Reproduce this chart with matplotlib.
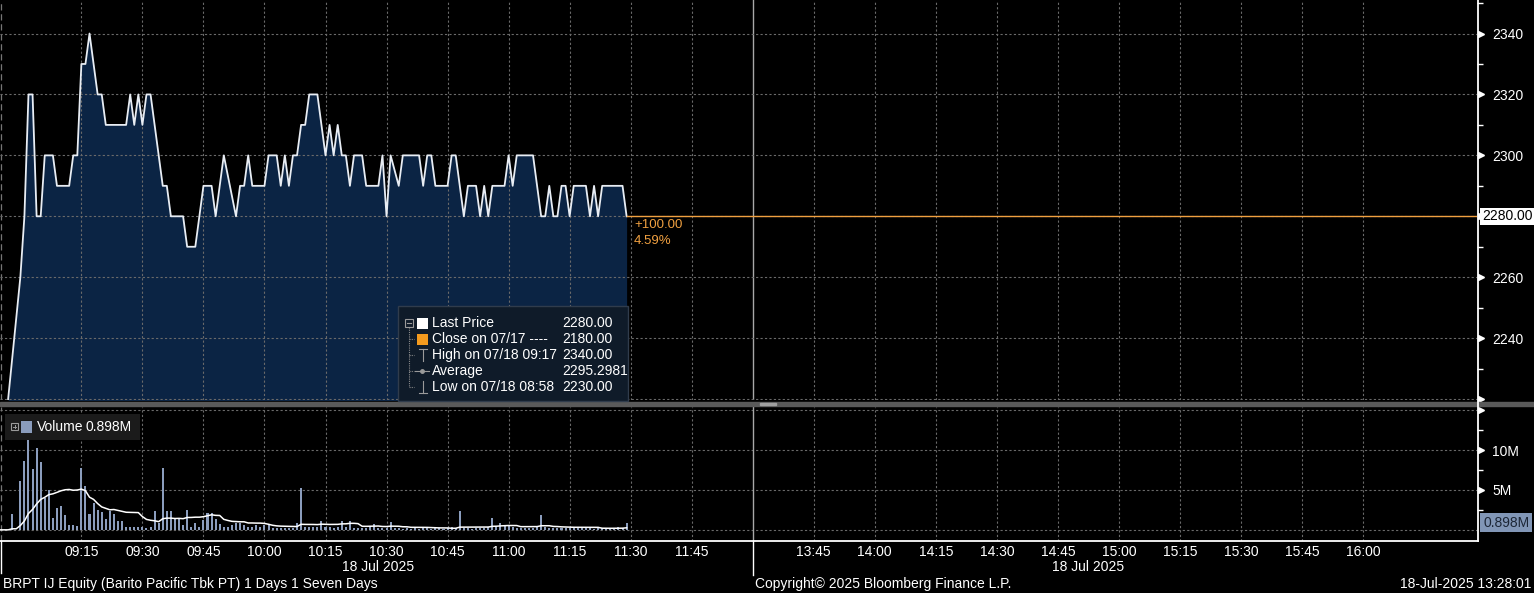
import matplotlib
matplotlib.use('Agg')
import matplotlib.pyplot as plt
import matplotlib.transforms as mtransforms
from matplotlib.patches import Rectangle
from matplotlib.lines import Line2D
import numpy as np
import pandas as pd

plt.rcParams['font.family'] = ['Liberation Sans', 'DejaVu Sans']

# data
price_times = ['08:57', '09:00', '09:01', '09:02', '09:03', '09:04', '09:05', '09:06', '09:08', '09:09',
               '09:12', '09:13', '09:14', '09:15', '09:16', '09:17', '09:19', '09:20', '09:21', '09:26',
               '09:27', '09:28', '09:29', '09:30', '09:31', '09:32', '09:35', '09:36', '09:37', '09:40',
               '09:41', '09:43', '09:45', '09:47', '09:48', '09:50', '09:53', '09:54', '09:55', '09:56',
               '09:57', '10:00', '10:01', '10:03', '10:04', '10:05', '10:06', '10:07', '10:08', '10:09',
               '10:10', '10:11', '10:13', '10:15', '10:16', '10:17', '10:18', '10:19', '10:20', '10:21',
               '10:22', '10:24', '10:25', '10:28', '10:29', '10:30', '10:31', '10:33', '10:34', '10:38',
               '10:39', '10:40', '10:41', '10:42', '10:45', '10:46', '10:47', '10:49', '10:50', '10:52',
               '10:53', '10:54', '10:55', '10:56', '10:59', '11:00', '11:01', '11:02', '11:06', '11:08',
               '11:09', '11:10', '11:11', '11:12', '11:13', '11:14', '11:15', '11:16', '11:19', '11:20',
               '11:21', '11:22', '11:23', '11:28', '11:29']
price_vals = [2220, 2260, 2280, 2320, 2320, 2280, 2280, 2300, 2300, 2290,
              2290, 2300, 2300, 2330, 2330, 2340, 2320, 2320, 2310, 2310,
              2320, 2310, 2320, 2310, 2320, 2320, 2290, 2290, 2280, 2280,
              2270, 2270, 2290, 2290, 2280, 2300, 2280, 2290, 2290, 2300,
              2290, 2290, 2300, 2300, 2290, 2300, 2290, 2300, 2300, 2310,
              2310, 2320, 2320, 2300, 2310, 2300, 2310, 2300, 2300, 2290,
              2300, 2300, 2290, 2290, 2300, 2280, 2300, 2290, 2300, 2300,
              2290, 2300, 2300, 2290, 2290, 2300, 2300, 2280, 2290, 2290,
              2280, 2290, 2280, 2290, 2290, 2300, 2290, 2300, 2300, 2280,
              2280, 2290, 2280, 2280, 2290, 2290, 2280, 2290, 2290, 2280,
              2290, 2280, 2290, 2290, 2280]

# volume per minute (millions) starting 08:58
vol_start = '08:58'
volume_m = [2.0, 0, 6.1, 8.6, 14.1, 7.6, 10.3, 8.5, 4.0, 5.0,
            1.5, 2.75, 3.0, 1.9, 0.55, 0.55, 0.45, 7.8, 5.5, 2.0,
            3.4, 2.5, 2.2, 1.3, 2.3, 2.0, 1.05, 1.15, 0.3, 0.3,
            0.3, 0.3, 0.3, 0.2, 0.4, 2.4, 0.9, 7.7, 2.4, 2.3,
            1.3, 1.3, 0.6, 2.5, 0.4, 0.8, 0.3, 1.2, 2.1, 2.1,
            1.3, 0.7, 0.4, 0.35, 0.6, 0.9, 0.9, 0.55, 0.3, 0.4,
            0.55, 0.3, 0.55, 0.55, 0.2, 0.2, 0.2, 0.2, 0.2, 0.2,
            0.85, 5.2, 0.3, 0.3, 0.3, 0.3, 1.1, 0.3, 0.3, 0.25,
            0.3, 1.1, 0.3, 1.1, 0.25, 0.25, 0.25, 0.2, 0.5, 0.7,
            0.25, 0.25, 0.2, 1.0, 0.2, 0.2, 0.15, 0.2, 0.15, 0.2,
            0.15, 0.2, 0.2, 0.15, 0.2, 0.2, 0.15, 0.2, 0.4, 0.2,
            2.3, 0.2, 0.2, 0.15, 0.2, 0.2, 0.2, 0.3, 1.5, 0.4,
            0.8, 0.5, 0.6, 0.3, 0.2, 0.2, 0.2, 0.2, 0.2, 0.3,
            1.8, 0.3, 0.2, 0.2, 0.2, 0.2, 0.2, 0.2, 0.2, 0.2,
            0.2, 0.2, 0.2, 0.15, 0.2, 0.2, 0.15, 0.2, 0.2, 0.4,
            0.2, 0.898]

time_ticks = ['09:15', '09:30', '09:45', '10:00', '10:15', '10:30', '10:45', '11:00', '11:15', '11:30',
              '11:45', '13:45', '14:00', '14:15', '14:30', '14:45', '15:00', '15:15', '15:30', '15:45', '16:00']
price_ticks = [2240, 2260, 2280, 2300, 2320, 2340]
price_grid = [2220, 2240, 2260, 2280, 2300, 2320, 2340]
price_minor = [2230, 2250, 2270, 2290, 2310, 2330, 2350]
vol_ticks = [5, 10]
vol_grid = [0, 5, 10, 15]
vol_minor = [2.5, 7.5, 12.5]

last_price = 2280.00
legend_rows = [('Last Price', '2280.00'), ('Close on 07/17 ----', '2180.00'),
               ('High on 07/18 09:17', '2340.00'), ('Average', '2295.2981'),
               ('Low on 07/18 08:58', '2230.00')]
last_volume = '0.898M'


def to_pos(hhmm):
    # minutes since 08:55, lunch break (12:00-13:30) collapsed
    h, m = map(int, hhmm.split(':'))
    t = h * 60 + m
    pos = t - (8 * 60 + 55)
    if t >= 13 * 60 + 30:
        pos -= 90
    return pos


W, H = 1534, 593
fig = plt.figure(figsize=(W / 100, H / 100), dpi=100, facecolor='black')


def fx(x):
    return x / W


def fy(y):
    return 1 - y / H


grid_c = '#6a6a6a'
dash = (0, (2, 2))
navy = '#0b2444'
fs = 10
x_end = 363
brk = to_pos('13:30')

ax_p = fig.add_axes([0, fy(400), fx(1477), 400 / H])
ax_v = fig.add_axes([0, fy(541), fx(1477), (541 - 407) / H])
for ax in (ax_p, ax_v):
    ax.set_facecolor('black')
    for s in ax.spines.values():
        s.set_visible(False)
    ax.set_xlim(0, x_end)
    for t in time_ticks:
        ax.axvline(to_pos(t), color=grid_c, lw=0.8, ls=dash, zorder=2)
    ax.axvline(0.25, color='#777777', lw=0.9, ls=(0, (5, 3)), zorder=2)
    ax.axvline(brk, color='#a8a8a8', lw=1.0, zorder=2)

# price panel
xp = [to_pos(t) for t in price_times]
ax_p.fill_between(xp, price_vals, 2200, color=navy, lw=0, zorder=1)
for v in price_grid:
    ax_p.axhline(v, color=grid_c, lw=0.8, ls=dash, zorder=2)
ax_p.plot(xp, price_vals, color='#e8edf4', lw=1.3, zorder=3)
ax_p.plot([xp[-1], x_end], [last_price, last_price], color='#f0a040', lw=1.0, zorder=4)
ax_p.set_ylim(2219.7, 2351)
ax_p.set_xticks([])
ax_p.yaxis.tick_right()
ax_p.set_yticks(price_ticks, [str(v) if v != 2280 else '' for v in price_ticks])
ax_p.set_yticks(price_minor, minor=True)
ax_p.tick_params(axis='y', which='major', length=0, pad=11, labelcolor='white', labelsize=fs)
ax_p.tick_params(axis='y', which='minor', length=4, width=1, color='white', direction='out')

# volume panel
xv = to_pos(vol_start) + np.arange(len(volume_m))
padded = np.concatenate([np.zeros(to_pos(vol_start)), volume_m])
ma = pd.Series(padded).rolling(15, min_periods=1).sum() / 15
for v in vol_grid:
    ax_v.axhline(v, color=grid_c, lw=0.8, ls=dash, zorder=1)
ax_v.bar(xv, volume_m, width=0.5, color='#8b9dbd', zorder=2)
ax_v.plot(np.arange(len(padded)), ma, color='white', lw=1.1, zorder=3)
ax_v.set_ylim(-1.4, 15.4)
ax_v.yaxis.tick_right()
ax_v.set_yticks(vol_ticks, [f'{v}M' for v in vol_ticks])
ax_v.set_yticks(vol_minor, minor=True)
ax_v.tick_params(axis='y', which='major', length=0, pad=11, labelcolor='white', labelsize=fs)
ax_v.tick_params(axis='y', which='minor', length=4, width=1, color='white', direction='out')
ax_v.set_xticks([to_pos(t) for t in time_ticks], time_ticks)
ax_v.tick_params(axis='x', length=0, pad=3, labelcolor='white', labelsize=fs)

# right-axis triangles
for ax, vals in ((ax_p, price_grid), (ax_v, [5, 10, 15])):
    tr = mtransforms.blended_transform_factory(ax.transAxes, ax.transData) + \
        mtransforms.ScaledTranslation(4 / 100, 0, fig.dpi_scale_trans)
    ax.plot(np.ones(len(vals)), vals, marker='>', ms=5, color='white', ls='none',
            transform=tr, clip_on=False, zorder=5)

# last price / last volume boxes
tr_p = mtransforms.blended_transform_factory(ax_p.transAxes, ax_p.transData) + \
    mtransforms.ScaledTranslation(5 / 100, 0, fig.dpi_scale_trans)
ax_p.text(1, last_price, f'{last_price:.2f}', transform=tr_p, va='center', ha='left', color='black',
          fontsize=fs, clip_on=False, zorder=10,
          bbox=dict(boxstyle='square,pad=0.12', fc='white', ec='none'))
tr_v = mtransforms.blended_transform_factory(ax_v.transAxes, ax_v.transData) + \
    mtransforms.ScaledTranslation(6 / 100, 0, fig.dpi_scale_trans)
ax_v.text(1, volume_m[-1], last_volume, transform=tr_v, va='center', ha='left', color='#1c2636',
          fontsize=fs, clip_on=False, zorder=10,
          bbox=dict(boxstyle='square,pad=0.2', fc='#8196b6', ec='none'))

# change labels
fig.text(fx(634), fy(225), '+100.00', color='#f0a040', fontsize=9.5, va='center')
fig.text(fx(634), fy(241), '4.59%', color='#f0a040', fontsize=9.5, va='center')

# frame lines
fig.add_artist(Rectangle((0, fy(406)), 1, 4 / H, transform=fig.transFigure, color='#5a5a5a', zorder=6))
fig.add_artist(Rectangle((fx(760), fy(405)), fx(16), 2 / H, transform=fig.transFigure, color='#a0a0a0', zorder=7))
fig.add_artist(Line2D([fx(1477.5)] * 2, [fy(0), fy(541)], color='white', lw=1.3, zorder=8))
fig.add_artist(Line2D([fx(0), fx(1478)], [fy(541)] * 2, color='white', lw=1.3, zorder=8))
fig.add_artist(Line2D([fx(1)] * 2, [fy(541), fy(573)], color='white', lw=1.0))
fig.add_artist(Line2D([fx(753)] * 2, [fy(541), fy(575)], color='white', lw=1.0))

# price legend
fig.add_artist(Rectangle((fx(398), fy(401)), fx(230), 95 / H, transform=fig.transFigure,
                         fc='#0f1b29', ec='#303c4c', lw=1, zorder=9))
rows_y = [323, 339, 355, 371, 387]
fig.add_artist(Line2D([fx(409)] * 2, [fy(327), fy(387)], color='#8a8a8a', lw=0.8, ls=(0, (1, 1)), zorder=10))
for ry in rows_y[1:]:
    fig.add_artist(Line2D([fx(409), fx(414)], [fy(ry)] * 2, color='#8a8a8a', lw=0.8, ls=(0, (1, 1)), zorder=10))
fig.add_artist(Rectangle((fx(405), fy(327)), fx(8), 8 / H, transform=fig.transFigure,
                         fc='#0f1b29', ec='#9a9a9a', lw=0.8, zorder=10))
fig.add_artist(Line2D([fx(407), fx(411)], [fy(323)] * 2, color='#9a9a9a', lw=0.8, zorder=11))
fig.add_artist(Rectangle((fx(417), fy(329)), fx(11), 11 / H, transform=fig.transFigure, fc='white', ec='none', zorder=10))
fig.add_artist(Rectangle((fx(417), fy(345)), fx(11), 11 / H, transform=fig.transFigure, fc='#f39a1e', ec='none', zorder=10))
fig.add_artist(Line2D([fx(419), fx(427)], [fy(349)] * 2, color='#9a9a9a', lw=0.8, zorder=10))
fig.add_artist(Line2D([fx(423)] * 2, [fy(349), fy(361)], color='#9a9a9a', lw=0.8, zorder=10))
fig.add_artist(Line2D([fx(415), fx(429)], [fy(371)] * 2, color='#9a9a9a', lw=0.8, zorder=10))
fig.add_artist(Line2D([fx(422)], [fy(371)], color='#9a9a9a', marker='o', ms=2.5, zorder=10))
fig.add_artist(Line2D([fx(423)] * 2, [fy(381), fy(393)], color='#9a9a9a', lw=0.8, zorder=10))
fig.add_artist(Line2D([fx(419), fx(427)], [fy(393)] * 2, color='#9a9a9a', lw=0.8, zorder=10))
for (lab, val), ry in zip(legend_rows, rows_y):
    fig.text(fx(432), fy(ry), lab, color='white', fontsize=fs, va='center', zorder=11)
    fig.text(fx(562), fy(ry), val, color='white', fontsize=fs, va='center', zorder=11)

# volume legend
fig.add_artist(Rectangle((fx(5), fy(440)), fx(135), 26 / H, transform=fig.transFigure,
                         fc='#1b1b1b', ec='none', zorder=9))
fig.add_artist(Rectangle((fx(11), fy(430)), fx(7), 7 / H, transform=fig.transFigure,
                         fc='#1b1b1b', ec='#9a9a9a', lw=0.8, zorder=10))
fig.add_artist(Line2D([fx(13), fx(16)], [fy(426.5)] * 2, color='#9a9a9a', lw=0.7, zorder=11))
fig.add_artist(Line2D([fx(14.5)] * 2, [fy(425), fy(428)], color='#9a9a9a', lw=0.7, zorder=11))
fig.add_artist(Rectangle((fx(21), fy(433)), fx(11), 12 / H, transform=fig.transFigure,
                         fc='#8b9dbd', ec='none', zorder=10))
fig.text(fx(37), fy(427), 'Volume', color='white', fontsize=fs, va='center', zorder=11)
fig.text(fx(86), fy(427), last_volume, color='white', fontsize=fs, va='center', zorder=11)

# date labels and footer
fig.text(fx(378), fy(567), '18 Jul 2025', color='white', fontsize=fs, ha='center', va='center')
fig.text(fx(1088), fy(567), '18 Jul 2025', color='white', fontsize=fs, ha='center', va='center')
fig.text(fx(3), fy(584), 'BRPT IJ Equity (Barito Pacific Tbk PT) 1 Days 1 Seven Days',
         color='white', fontsize=fs, va='center')
fig.text(fx(883), fy(584), 'Copyright\u00a9 2025 Bloomberg Finance L.P.', color='white',
         fontsize=fs, ha='center', va='center')
fig.text(fx(1531), fy(584), '18-Jul-2025 13:28:01', color='white', fontsize=fs, ha='right', va='center')

fig.savefig('out.png', dpi=100, facecolor='black')
